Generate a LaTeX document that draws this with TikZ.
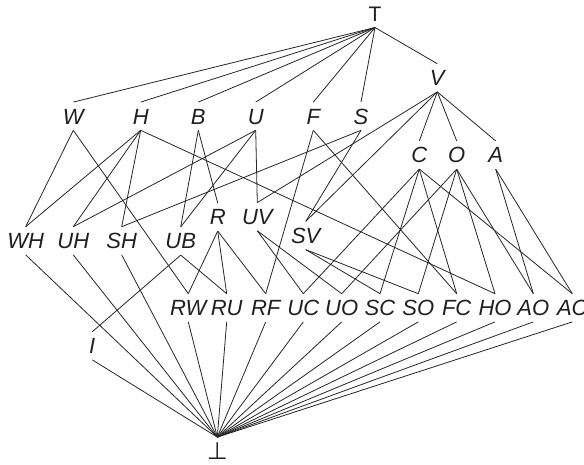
\documentclass[tikz,border=0pt]{standalone}
\usepackage{fontspec}
\setmainfont{Liberation Sans}
\newfontfamily\symfont{DejaVu Sans}
\begin{document}
\begin{tikzpicture}[x=1pt,y=-1pt,
  lbl/.style={font=\fontsize{22}{26}\selectfont\itshape, text height=15.8pt, text depth=0pt,
    inner xsep=0pt, inner ysep=6pt, text=black!88},
  uplbl/.style={lbl, font=\fontsize{21}{25}\selectfont\upshape},
  botlbl/.style={lbl, font=\symfont\fontsize{24}{28}\selectfont},
  edge/.style={line width=0.8pt, draw=black!85}]
\useasboundingbox (0,0) rectangle (584,464);
% top and bottom
\node[uplbl] (tp) at (375,13.4) {T};
\node[botlbl] (bt) at (217.3,451.2) {⊥};
% first level
\node[lbl] (W) at (73.3,116.2) {W};
\node[lbl] (H) at (140.7,116.2) {H};
\node[lbl] (B) at (198.3,116.2) {B};
\node[lbl] (U) at (255.7,116.2) {U};
\node[lbl] (F) at (313.3,116.2) {F};
\node[lbl] (S) at (361,116.2) {S};
\node[lbl] (V) at (437.3,77.8) {V};
\node[lbl] (C) at (419.3,155) {C};
\node[lbl] (O) at (456.7,155) {O};
\node[lbl] (A) at (495.7,155) {A};
% middle
\node[lbl] (R) at (217.7,217) {R};
\node[lbl] (UV) at (257.3,216.7) {UV};
\node[lbl] (SV) at (305.7,235.5) {SV};
\node[lbl] (WH) at (25.7,240.8) {WH};
\node[lbl] (UH) at (73.3,240.8) {UH};
\node[lbl] (SH) at (121.7,240.8) {SH};
\node[lbl] (UB) at (180.7,241) {UB};
\node[lbl] (I) at (92.3,345.8) {I};
% bottom row
\node[lbl] (RW) at (188.3,307.8) {RW};
\node[lbl] (RU) at (226.7,307.8) {RU};
\node[lbl] (RF) at (265.7,307.8) {RF};
\node[lbl] (UC) at (303.3,307.8) {UC};
\node[lbl] (UO) at (341.7,307.8) {UO};
\node[lbl] (SC) at (380,307.8) {SC};
\node[lbl] (SO) at (418.3,307.8) {SO};
\node[lbl] (FC) at (456.7,307.8) {FC};
\node[lbl] (HO) at (495,307.8) {HO};
\node[lbl] (AO) at (533.3,307.8) {AO};
\node[lbl] (AC) at (572.3,307.8) {AC};
% edges
\foreach \a/\b in {tp/W,tp/H,tp/B,tp/U,tp/F,tp/S,tp/V,
  V/UV,V/SV,V/C,V/O,V/A,
  W/WH,W/RW,
  H/WH,H/UH,H/SH,H/HO,
  B/UB,B/R,
  U/UH,U/UB,U/UV,
  F/RF,F/FC,
  S/SH,S/SV,
  C/UC,C/SC,C/FC,C/AC,
  O/UO,O/SO,O/HO,O/AO,
  A/AO,A/AC,
  R/RW,R/RU,R/RF,
  UV/UC,UV/UO,
  SV/SC,SV/SO,
  UB/RU,UB/I,
  WH/bt,UH/bt,SH/bt,I/bt,RW/bt,RU/bt,RF/bt,UC/bt,UO/bt,SC/bt,SO/bt,FC/bt,HO/bt,AO/bt,AC/bt}
  \draw[edge] (\a.south) -- (\b.north);
\end{tikzpicture}
\end{document}
